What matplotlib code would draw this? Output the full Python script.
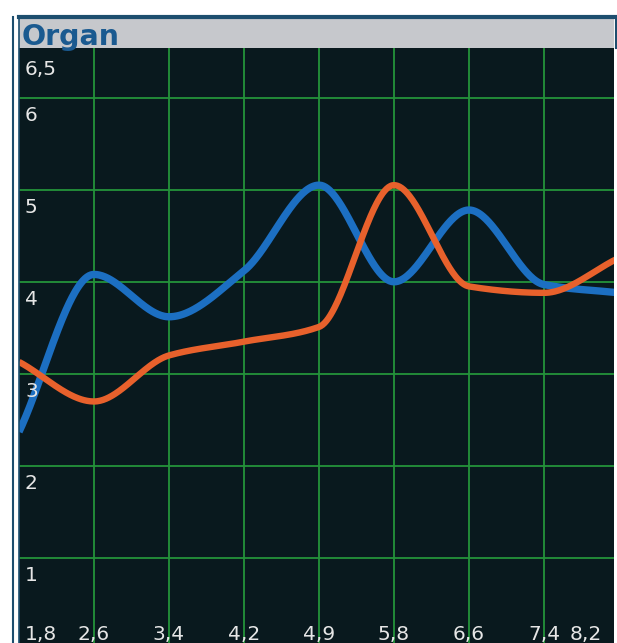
import numpy as np
import matplotlib
matplotlib.use("Agg")
import matplotlib.pyplot as plt
from matplotlib.patches import Rectangle
from matplotlib.lines import Line2D

# ── Data ───────────────────────────────────────────────────────────────────────
x_labels = ["1,8", "2,6", "3,4", "4,2", "4,9", "5,8", "6,6", "7,4", "8,2"]
y_labels = ["1", "2", "3", "4", "5", "6", "6,5"]
y_ticks = [1, 2, 3, 4, 5, 6, 6.5]

blue_values = [2.37, 4.08, 3.62, 4.12, 5.05, 4.00, 4.78, 3.97, 3.88]
orange_values = [3.13, 2.70, 3.20, 3.35, 3.51, 5.05, 3.95, 3.88, 4.26]

W, H = 617, 643
BG = "#09191e"
GRID = "#24933a"
BLUE = "#1c6fc2"
ORANGE = "#e8612c"
FRAME = "#1d4e6e"


def pchip(x, y, xs):
    """Monotone cubic through the points (what the chart widget draws)."""
    x = np.asarray(x, float)
    y = np.asarray(y, float)
    h = np.diff(x)
    d = np.diff(y) / h
    n = len(x)
    m = np.zeros(n)
    for k in range(1, n - 1):
        if d[k - 1] * d[k] > 0:
            w1 = 2 * h[k] + h[k - 1]
            w2 = h[k] + 2 * h[k - 1]
            m[k] = (w1 + w2) / (w1 / d[k - 1] + w2 / d[k])
    m[0] = d[0]
    m[-1] = d[-1]
    idx = np.clip(np.searchsorted(x, xs) - 1, 0, n - 2)
    t = (xs - x[idx]) / h[idx]
    h00 = 2 * t**3 - 3 * t**2 + 1
    h10 = t**3 - 2 * t**2 + t
    h01 = -2 * t**3 + 3 * t**2
    h11 = t**3 - t**2
    return (h00 * y[idx] + h10 * h[idx] * m[idx]
            + h01 * y[idx + 1] + h11 * h[idx] * m[idx + 1])


fig = plt.figure(figsize=(W / 100, H / 100), dpi=100)
fig.patch.set_facecolor("white")

# plot area in pixel terms
left, right, top = 19, 614, 48
ax = fig.add_axes([left / W, 0, (right - left) / W, (H - top) / H])
ax.set_facecolor(BG)

xi = np.arange(len(x_labels))
ax.set_xlim(0, (right - left) / 75)
ax.set_ylim(0.076, 6.54)

for gx in xi[1:-1]:
    ax.axvline(gx, color=GRID, lw=1.3, zorder=1)
for gy in y_ticks[:-1]:
    ax.axhline(gy, color=GRID, lw=1.3, zorder=1)

xs = np.linspace(xi[0], xi[-1], 600)
ax.plot(xs, pchip(xi, blue_values, xs), color=BLUE, lw=5.3, zorder=3,
        solid_capstyle="butt")
ax.plot(xs, pchip(xi, orange_values, xs), color=ORANGE, lw=4.6, zorder=4,
        solid_capstyle="butt")

ax.set_xticks([])
ax.set_yticks([])
for s in ax.spines.values():
    s.set_visible(False)

# y labels sit just under their grid line, inside the plot
for v, lab in zip(y_ticks, y_labels):
    ax.annotate(lab, xy=(0, v), xycoords=ax.get_yaxis_transform(),
                xytext=(6, -8), textcoords="offset pixels",
                ha="left", va="top", color="#e6e6e6", fontsize=14.5)

# x labels along the bottom edge, edge labels pushed inside
xmax = ax.get_xlim()[1]
for i, lab in zip(xi, x_labels):
    if i == 0:
        xy, dx, ha = (i, 0), 6, "left"
    elif i >= xmax:
        xy, dx, ha = (xmax, 0), -12, "right"
    else:
        xy, dx, ha = (i, 0), 0, "center"
    ax.annotate(lab, xy=xy, xycoords=ax.get_xaxis_transform(),
                xytext=(dx, 3), textcoords="offset pixels",
                ha=ha, va="baseline", color="#e6e6e6", fontsize=14.5)

# title bar and window frame
fig.patches.append(Rectangle((left / W, 1 - top / H), (right - left) / W,
                             (top - 19) / H, transform=fig.transFigure,
                             facecolor="#c6c8cc", edgecolor="none"))
fig.lines.append(Line2D([left / W, 616 / W], [1 - 17 / H, 1 - 17 / H],
                        transform=fig.transFigure, color=FRAME, lw=3))
fig.lines.append(Line2D([615.5 / W, 615.5 / W], [1 - 17 / H, 1 - top / H],
                        transform=fig.transFigure, color=FRAME, lw=1.5))
fig.lines.append(Line2D([13 / W, 13 / W], [0, 1 - 17 / H],
                        transform=fig.transFigure, color=FRAME, lw=1.5))
fig.lines.append(Line2D([18.5 / W, 18.5 / W], [0, 1 - 17 / H],
                        transform=fig.transFigure, color=FRAME, lw=1.2))
fig.text(22 / W, 1 - 45 / H, "Organ", color="#1a5a90", fontsize=20.5,
         fontweight="heavy", ha="left", va="baseline")

fig.savefig("out.png", dpi=100, facecolor=fig.get_facecolor())
